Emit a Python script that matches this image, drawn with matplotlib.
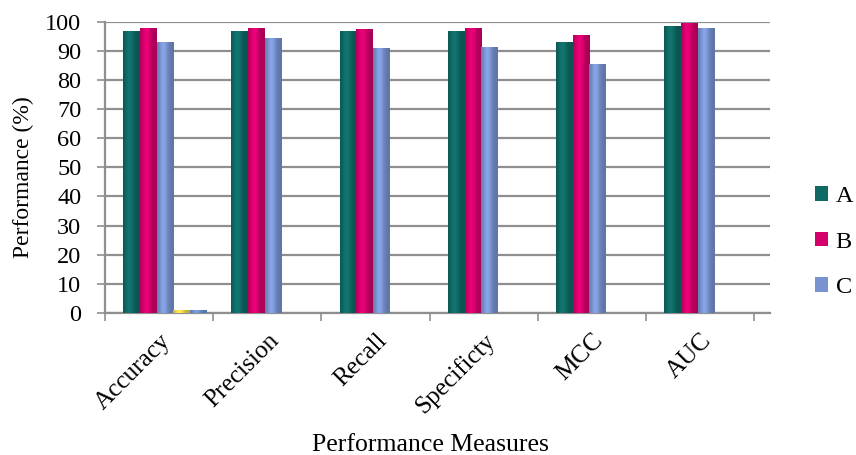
import numpy as np
import matplotlib
matplotlib.use("Agg")
import matplotlib.pyplot as plt
from matplotlib.colors import to_rgb
from matplotlib.patches import Patch

plt.rcParams['font.family'] = ['Liberation Serif', 'DejaVu Serif']

# datos
medidas = ['Accuracy', 'Precision', 'Recall', 'Specificty', 'MCC', 'AUC']
serie_a = [96.5, 96.5, 96.5, 96.5, 93.0, 98.5]
serie_b = [97.6, 97.8, 97.3, 97.8, 95.3, 99.3]
serie_c = [92.7, 94.4, 90.7, 91.0, 85.2, 97.5]
serie_d = [1.0, 0, 0, 0, 0, 0]
serie_e = [1.0, 0, 0, 0, 0, 0]
nombres = ['A', 'B', 'C']

colores = ['#0f6964', '#d4006c', '#7893cf', '#f0d44a', '#6e8fd0']

def barras_gradiente(ax, barras, color):
    # sombreado horizontal: bordes oscuros, franja clara a la izquierda del centro
    t = np.linspace(0, 1, 64)
    m = 0.80 + 0.32 * np.exp(-((t - 0.38) / 0.28) ** 2)
    base = np.array(to_rgb(color))
    img = np.clip(base[None, :] * m[:, None], 0, 1)[None, :, :]
    for b in barras:
        h = b.get_height()
        if h <= 0:
            continue
        x0 = b.get_x()
        w = b.get_width()
        ax.imshow(img, extent=(x0, x0 + w, 0, h), aspect='auto',
                  interpolation='bilinear', zorder=3)
        b.set_visible(False)

fig = plt.figure(figsize=(8.56, 4.55), dpi=100)
ax = fig.add_axes([0.1227, 0.3121, 0.777, 0.6402])

x = np.arange(len(medidas))
ancho = 0.154
inicio = -0.5 + 0.169
series = [serie_a, serie_b, serie_c, serie_d, serie_e]
for k, (vals, col) in enumerate(zip(series, colores)):
    bs = ax.bar(x + inicio + k * ancho, vals, width=ancho, align='edge',
                color=col, zorder=3)
    barras_gradiente(ax, bs, col)

ax.set_xlim(-0.5, 5.648)
ax.set_ylim(0, 100)
ax.set_yticks(np.arange(0, 101, 10))
ax.yaxis.grid(True, color='#8f8f8f', lw=1.6, zorder=0)
ax.set_axisbelow(True)

ax.set_xticks(x)
ax.set_xticklabels(medidas, rotation=45, ha='right', rotation_mode='anchor',
                   fontsize=18.2)
ax.set_xticks(np.arange(-0.5, 6.0, 1.0), minor=True)
ax.tick_params(axis='x', which='major', length=0, pad=12)
ax.tick_params(axis='x', which='minor', length=6, color='#8f8f8f', width=1.2)
ax.tick_params(axis='y', length=6, color='#8f8f8f', width=1.2, labelsize=17.5, pad=11)

for lado in ['top', 'right']:
    ax.spines[lado].set_visible(False)
for lado in ['left', 'bottom']:
    ax.spines[lado].set_color('#8f8f8f')
    ax.spines[lado].set_linewidth(1.6)

ax.set_ylabel('Performance (%)', fontsize=17)
ax.yaxis.set_label_coords(-0.106, 0.465)
ax.set_xlabel('Performance Measures', fontsize=18.5)
ax.xaxis.set_label_coords(0.489, -0.415)

manejadores = [Patch(facecolor=c, edgecolor='none') for c in colores[:3]]
fig.legend(manejadores, nombres, loc='center left', bbox_to_anchor=(0.952, 0.468),
           frameon=False, fontsize=17.5, handlelength=0.55, handleheight=0.55,
           handletextpad=0.3, labelspacing=1.0, borderaxespad=0, borderpad=0)

fig.savefig('out.png', dpi=100)
